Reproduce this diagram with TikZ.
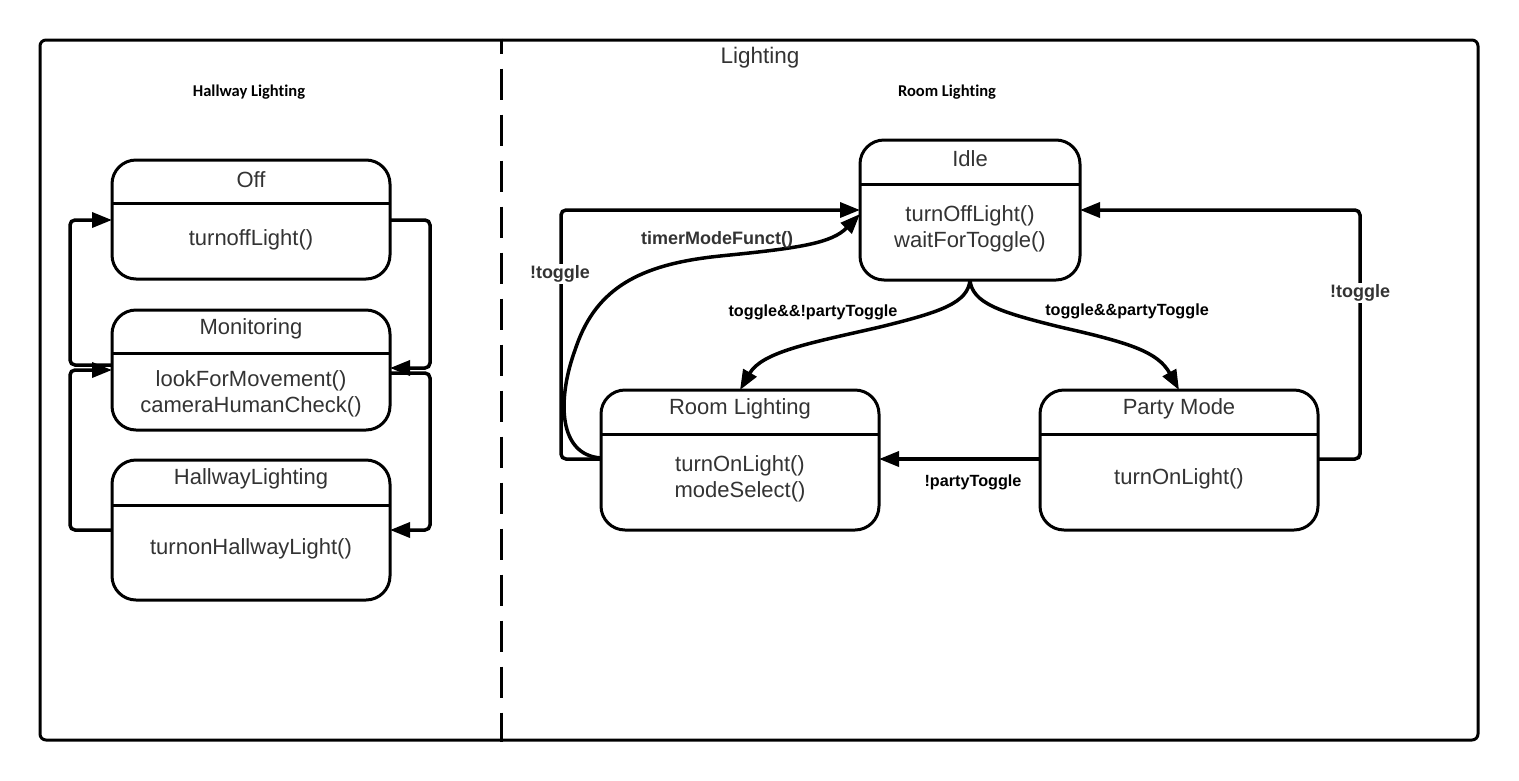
\documentclass[tikz,border=0pt]{standalone}
\usepackage{fontspec}
\setmainfont{Liberation Sans}
\newfontfamily\calibri[Ligatures=NoCommon]{Carlito}
\usetikzlibrary{arrows.meta}
\definecolor{ink}{HTML}{333333}
\begin{document}
\begin{tikzpicture}[x=1pt,y=-1pt,
  statebox/.style={draw, line width=3pt, rounded corners=24pt, inner sep=0pt, outer sep=0pt},
  divider/.style={line width=3pt},
  stname/.style={text=ink, font=\fontsize{22}{26}\selectfont},
  stbody/.style={text=ink, font=\fontsize{22}{26}\selectfont, align=center},
  conn/.style={line width=3.5pt, rounded corners=5pt, -{Triangle[length=20pt,width=15pt]}},
  lbl/.style={font=\fontsize{16.2}{18}\selectfont\bfseries, inner sep=2pt},
  glbl/.style={font=\fontsize{18}{20}\selectfont\bfseries, text=ink, inner sep=2pt},
  grouptitle/.style={font=\fontsize{16.5}{18}\selectfont\calibri\bfseries}]
\useasboundingbox (0,0) rectangle (1519,780);

% outer frame and region separator
\node[draw, line width=3pt, rounded corners=6pt, inner sep=0pt,
      minimum width=1438pt, minimum height=700pt] (frame) at (759,390) {};
\draw[line width=3pt, dash pattern=on 31pt off 15pt, dash phase=16pt]
  (frame.north -| 501,0) -- (frame.south -| 501,0);

\node[text=ink, font=\fontsize{22.5}{26}\selectfont] (title) at (760,58) {Lighting};
\node[grouptitle] (hallgroup) at (249,92) {Hallway Lighting};
\node[grouptitle] (roomgroup) at (947,92) {Room Lighting};

% ---- hallway states ----
\node[statebox, minimum width=278pt, minimum height=119pt] (off) at (251,219.5) {};
\draw[divider] (off.west |- 0,203) -- (off.east |- 0,203);
\node[stname] (off-t) at (251,180) {Off};
\node[stbody] (off-b) at (251,240) {turnoffLight()};

\node[statebox, minimum width=278pt, minimum height=120pt] (mon) at (251,370) {};
\draw[divider] (mon.west |- 0,353) -- (mon.east |- 0,353);
\node[stname] (mon-t) at (251,329) {Monitoring};
\node[stbody] (mon-b) at (251,394) {lookForMovement()\\cameraHumanCheck()};

\node[statebox, minimum width=278pt, minimum height=140pt] (hall) at (251,530) {};
\draw[divider] (hall.west |- 0,505) -- (hall.east |- 0,505);
\node[stname] (hall-t) at (251,479) {HallwayLighting};
\node[stbody] (hall-b) at (251,549) {turnonHallwayLight()};

% ---- room states ----
\node[statebox, minimum width=220pt, minimum height=140pt] (idle) at (970,210) {};
\draw[divider] (idle.west |- 0,184) -- (idle.east |- 0,184);
\node[stname] (idle-t) at (970,159) {Idle};
\node[stbody] (idle-b) at (970,229) {turnOffLight()\\waitForToggle()};

\node[statebox, minimum width=278pt, minimum height=140pt] (room) at (740,460) {};
\draw[divider] (room.west |- 0,434) -- (room.east |- 0,434);
\node[stname] (room-t) at (740,409) {Room Lighting};
\node[stbody] (room-b) at (740,479) {turnOnLight()\\modeSelect()};

\node[statebox, minimum width=278pt, minimum height=140pt] (party) at (1179,460) {};
\draw[divider] (party.west |- 0,434) -- (party.east |- 0,434);
\node[stname] (party-t) at (1179,409) {Party Mode};
\node[stbody] (party-b) at (1179,479) {turnOnLight()};

% ---- hallway transitions ----
\draw[conn] (mon.west |- 0,365) -- (70,365) -- (70,220) -- (off.west |- 0,220);
\draw[conn] (hall.west |- 0,530) -- (70,530) -- (70,370) -- (mon.west |- 0,370);
\draw[conn] (off.east |- 0,220) -- (430,220) -- (430,368) -- (mon.east |- 0,368);
\draw[conn] (mon.east |- 0,373) -- (430,373) -- (430,530) -- (hall.east |- 0,530);

% ---- room transitions ----
\draw[conn] (room.west |- 0,459) -- (561,459) -- (561,210) -- (idle.west |- 0,210);
\draw[conn] (room.west |- 0,458) .. controls (558,455) and (558,400) .. (575,350)
  .. controls (597,288) and (640,265) .. (720,256)
  .. controls (800,248) and (832,243) .. (idle.west |- 0,214);
\draw[conn] (idle.south) .. controls (968,303) and (940,312) .. (880,327)
  .. controls (810,343) and (762,352) .. (room.north);
\draw[conn] (idle.south) .. controls (972,303) and (1000,312) .. (1060,327)
  .. controls (1130,343) and (1158,352) .. (party.north);
\draw[conn] (party.west |- 0,459) -- (room.east |- 0,459);
\draw[conn] (party.east |- 0,459) -- (1360,459) -- (1360,210) -- (idle.east |- 0,210);

% ---- transition labels ----
\node[glbl, fill=white] (l-toggle1) at (560,274) {!toggle};
\node[glbl] (l-timer) at (717,240) {timerModeFunct()};
\node[lbl] (l-tnp) at (813,312) {toggle\&\&!partyToggle};
\node[lbl] (l-tp) at (1127,311) {toggle\&\&partyToggle};
\node[lbl] (l-np) at (973,482) {!partyToggle};
\node[glbl, fill=white] (l-toggle2) at (1360,293) {!toggle};
\end{tikzpicture}
\end{document}
